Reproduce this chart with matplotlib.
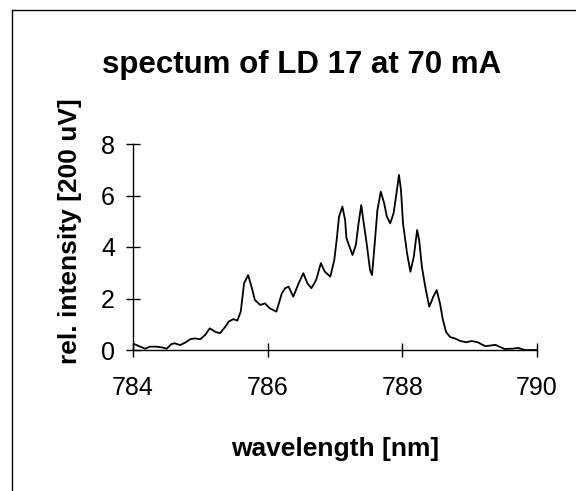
import matplotlib.pyplot as plt
from matplotlib.lines import Line2D

# wavelength [nm] and relative intensity
wavelength = [784.00, 784.08, 784.18, 784.25, 784.35, 784.45, 784.50, 784.57, 784.62, 784.70,
              784.77, 784.85, 784.92, 785.00, 785.07, 785.14, 785.22, 785.29, 785.37, 785.42,
              785.49, 785.55, 785.60, 785.65, 785.71, 785.76, 785.81, 785.89, 785.96, 786.03,
              786.13, 786.21, 786.26, 786.31, 786.38, 786.46, 786.53, 786.59, 786.65, 786.72,
              786.79, 786.85, 786.93, 786.99, 787.03, 787.06, 787.11, 787.15, 787.17, 787.26,
              787.31, 787.35, 787.39, 787.42, 787.47, 787.52, 787.55, 787.59, 787.63, 787.68,
              787.73, 787.77, 787.82, 787.87, 787.92, 787.95, 787.98, 788.01, 788.07, 788.12,
              788.17, 788.22, 788.25, 788.29, 788.34, 788.40, 788.46, 788.51, 788.56, 788.60,
              788.65, 788.71, 788.78, 788.86, 788.95, 789.03, 789.12, 789.23, 789.30, 789.38,
              789.45, 789.52, 789.63, 789.72, 789.82, 790.00]
intensity = [0.25, 0.16, 0.05, 0.13, 0.13, 0.09, 0.05, 0.23, 0.26, 0.19,
             0.28, 0.42, 0.45, 0.42, 0.58, 0.84, 0.71, 0.65, 0.90, 1.10,
             1.20, 1.14, 1.49, 2.59, 2.91, 2.46, 1.94, 1.75, 1.81, 1.62,
             1.49, 2.20, 2.40, 2.46, 2.07, 2.59, 2.98, 2.59, 2.40, 2.72,
             3.37, 3.04, 2.85, 3.50, 4.40, 5.18, 5.57, 5.05, 4.34, 3.69,
             4.08, 4.92, 5.63, 5.05, 4.14, 3.11, 2.91, 4.14, 5.44, 6.15,
             5.70, 5.18, 4.92, 5.31, 6.21, 6.80, 6.21, 4.92, 3.76, 3.04,
             3.62, 4.66, 4.27, 3.24, 2.46, 1.68, 2.07, 2.33, 1.80, 1.20,
             0.70, 0.50, 0.45, 0.35, 0.30, 0.35, 0.30, 0.15, 0.17, 0.20,
             0.12, 0.04, 0.05, 0.08, 0.00, 0.00]

xticks = [784, 786, 788, 790]
yticks = [0, 2, 4, 6, 8]

plt.rcParams['font.family'] = ['Liberation Sans', 'DejaVu Sans']

W, H = 576, 491
fig = plt.figure(figsize=(W / 100, H / 100), dpi=100)
ax = fig.add_axes([133 / W, 1 - 350 / H, (537 - 133) / W, (350 - 144) / H])

ax.plot(wavelength, intensity, color='black', lw=1.3)
ax.set_xlim(784, 790)
ax.set_ylim(0, 8)
ax.set_xticks(xticks)
ax.set_yticks(yticks)
for s in ['top', 'right']:
    ax.spines[s].set_visible(False)
for s in ['left', 'bottom']:
    ax.spines[s].set_linewidth(1.0)
ax.tick_params(axis='both', direction='inout', length=10, width=1.0, labelsize=18)
ax.tick_params(axis='x', pad=14)
ax.tick_params(axis='y', pad=8)

fig.text(302 / W, 1 - 73 / H, 'spectum of LD 17 at 70 mA', ha='center', va='baseline',
         fontsize=22.5, fontweight='bold')
fig.text(335 / W, 1 - 456 / H, 'wavelength [nm]', ha='center', va='baseline',
         fontsize=19, fontweight='bold')
fig.text(70 / W, 1 - 231 / H, 'rel. intensity [200 uV]', ha='center', va='center',
         rotation=90, fontsize=19, fontweight='bold')

# frame lines (left and top) around the chart
fx, fy = 12 / W, 1 - 10 / H
fig.add_artist(Line2D([fx, fx], [0, fy], transform=fig.transFigure, color='black', lw=1.0))
fig.add_artist(Line2D([fx, 1], [fy, fy], transform=fig.transFigure, color='black', lw=1.0))

fig.savefig('out.png', dpi=100)
